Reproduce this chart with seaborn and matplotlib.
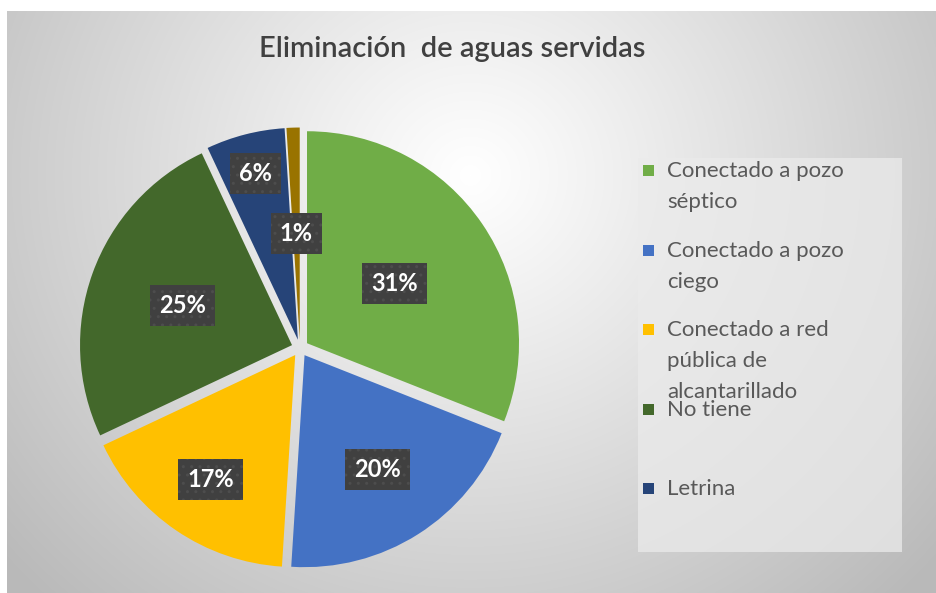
import seaborn as sns
import matplotlib.pyplot as plt
import numpy as np
from matplotlib.patches import Rectangle

sns.set_theme(style="white")
plt.rcParams['font.family'] = ['Lato', 'DejaVu Sans']

# data
categories = ["Conectado a pozo séptico", "Conectado a pozo ciego",
              "Conectado a red pública de alcantarillado", "No tiene",
              "Letrina", "Otros"]
legend_text = ["Conectado a pozo\nséptico", "Conectado a pozo\nciego",
               "Conectado a red\npública de\nalcantarillado", "No tiene",
               "Letrina"]
shares = [31, 20, 17, 25, 6, 1]
colors = ["#70AD47", "#4472C4", "#FFC000", "#43682B", "#264478", "#997300"]
label_r = [0.50, 0.64, 0.71, 0.55, 0.81, 0.5]

W, H = 937, 593
fig = plt.figure(figsize=(W / 100, H / 100), dpi=100)
fig.patch.set_facecolor("white")

def fx(px):
    return px / W

def fy(py):
    return 1 - py / H

# radial gradient background of the chart area
bg = fig.add_axes([fx(7), 0, fx(930), 582 / H], zorder=0)
gx, gy = np.meshgrid(np.arange(7, 937), np.arange(11, 593))
d = np.sqrt((gx - 470) ** 2 + ((gy - 175) * 1.05) ** 2) / 620
g = 255 - 70 * np.clip(d, 0, 1) ** 1.05
img = np.dstack([g, g, g]).astype(np.uint8)
bg.imshow(img, aspect="auto", interpolation="bilinear")
bg.axis("off")

# pie
cx, cy, R = 300, 348, 212
half = 1.1 * R
ax = fig.add_axes([fx(cx - half), fy(cy + half), 2 * half / W, 2 * half / H], zorder=1)
ax.set_facecolor("none")
wedges, _ = ax.pie(shares, colors=colors, startangle=90, counterclock=False,
                   explode=[0.04] * len(shares), radius=1,
                   wedgeprops=dict(edgecolor="none"))
ax.set_xlim(-1.1, 1.1)
ax.set_ylim(-1.1, 1.1)
ax.set_aspect("equal")
ax.axis("off")

for w, val, r in zip(wedges, shares, label_r):
    ang = np.deg2rad((w.theta1 + w.theta2) / 2)
    x0, y0 = w.center
    ax.text(x0 + r * np.cos(ang), y0 + r * np.sin(ang), f"{val}%",
            ha="center", va="center", color="white", fontsize=17,
            fontweight="bold",
            bbox=dict(boxstyle="square,pad=0.38", fc="#404040",
                      ec="#4d4d4d", lw=0, hatch=".."))

# title
fig.text(fx(452), fy(49), "Eliminación  de aguas servidas", ha="center",
         va="center", fontsize=21, fontweight="semibold", color="#404040")

# legend
fig.patches.append(Rectangle((fx(638), fy(552)), fx(902 - 638), (552 - 158) / H,
                             transform=fig.transFigure, fc="#ebebeb",
                             ec="none", alpha=0.75, zorder=2))
entry_y = [170, 250, 329, 409, 488]
for txt, col, ey in zip(legend_text, colors, entry_y):
    fig.patches.append(Rectangle((fx(643), fy(ey + 6)), fx(11), 11 / H,
                                 transform=fig.transFigure, fc=col,
                                 ec="none", zorder=3))
    fig.text(fx(667), fy(ey - 9), txt, ha="left", va="top", fontsize=16,
             color="#595959", linespacing=1.68, zorder=3)

fig.savefig("out.png", dpi=100)
